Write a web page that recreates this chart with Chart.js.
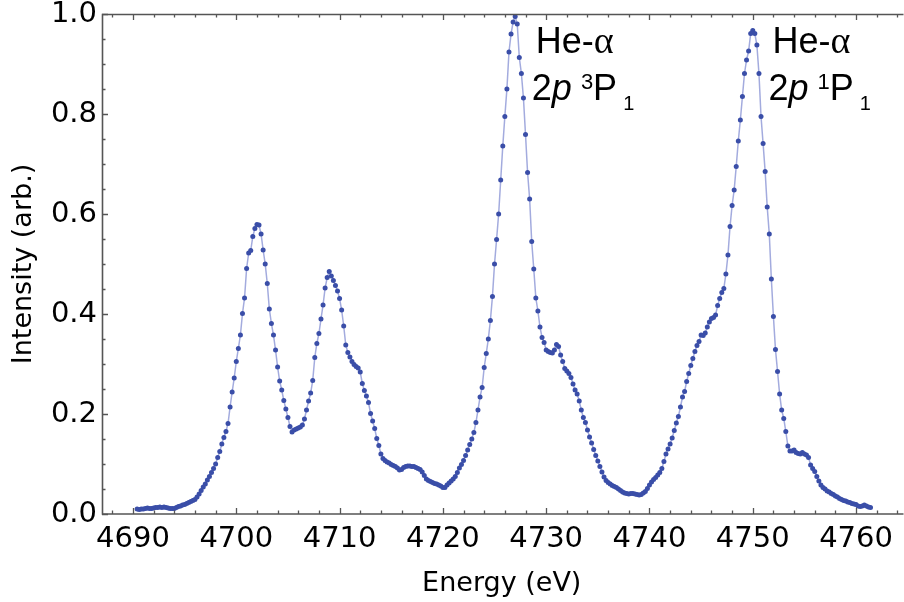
<!DOCTYPE html>
<html>
<head>
<meta charset="utf-8">
<script src="https://cdn.jsdelivr.net/npm/chart.js@4.4.1/dist/chart.umd.min.js"></script>
<style>
  html, body { margin: 0; padding: 0; background: #fff; }
  canvas { display: block; }
</style>
</head>
<body>
<canvas id="spectrum" width="904" height="602"></canvas>
<script>
// photon energy (eV) of each spectrometer bin
const energy = [
  4690.4, 4690.6, 4690.8, 4691.0, 4691.2, 4691.4, 4691.6, 4691.8, 4692.0, 4692.2,
  4692.4, 4692.6, 4692.8, 4693.0, 4693.2, 4693.4, 4693.6, 4693.8, 4694.0, 4694.2,
  4694.4, 4694.6, 4694.8, 4695.0, 4695.2, 4695.4, 4695.6, 4695.8, 4696.0, 4696.2,
  4696.4, 4696.6, 4696.8, 4697.0, 4697.2, 4697.4, 4697.6, 4697.8, 4698.0, 4698.2,
  4698.4, 4698.6, 4698.8, 4699.0, 4699.2, 4699.4, 4699.6, 4699.8, 4700.0, 4700.2,
  4700.4, 4700.6, 4700.8, 4701.0, 4701.2, 4701.4, 4701.6, 4701.8, 4702.0, 4702.2,
  4702.4, 4702.6, 4702.8, 4703.0, 4703.2, 4703.4, 4703.6, 4703.8, 4704.0, 4704.2,
  4704.4, 4704.6, 4704.8, 4705.0, 4705.2, 4705.4, 4705.6, 4705.8, 4706.0, 4706.2,
  4706.4, 4706.6, 4706.8, 4707.0, 4707.2, 4707.4, 4707.6, 4707.8, 4708.0, 4708.2,
  4708.4, 4708.6, 4708.8, 4709.0, 4709.2, 4709.4, 4709.6, 4709.8, 4710.0, 4710.2,
  4710.4, 4710.6, 4710.8, 4711.0, 4711.2, 4711.4, 4711.6, 4711.8, 4712.0, 4712.2,
  4712.4, 4712.6, 4712.8, 4713.0, 4713.2, 4713.4, 4713.6, 4713.8, 4714.0, 4714.2,
  4714.4, 4714.6, 4714.8, 4715.0, 4715.2, 4715.4, 4715.6, 4715.8, 4716.0, 4716.2,
  4716.4, 4716.6, 4716.8, 4717.0, 4717.2, 4717.4, 4717.6, 4717.8, 4718.0, 4718.2,
  4718.4, 4718.6, 4718.8, 4719.0, 4719.2, 4719.4, 4719.6, 4719.8, 4720.0, 4720.2,
  4720.4, 4720.6, 4720.8, 4721.0, 4721.2, 4721.4, 4721.6, 4721.8, 4722.0, 4722.2,
  4722.4, 4722.6, 4722.8, 4723.0, 4723.2, 4723.4, 4723.6, 4723.8, 4724.0, 4724.2,
  4724.4, 4724.6, 4724.8, 4725.0, 4725.2, 4725.4, 4725.6, 4725.8, 4726.0, 4726.2,
  4726.4, 4726.6, 4726.8, 4727.0, 4727.2, 4727.4, 4727.6, 4727.8, 4728.0, 4728.2,
  4728.4, 4728.6, 4728.8, 4729.0, 4729.2, 4729.4, 4729.6, 4729.8, 4730.0, 4730.2,
  4730.4, 4730.6, 4730.8, 4731.0, 4731.2, 4731.4, 4731.6, 4731.8, 4732.0, 4732.2,
  4732.4, 4732.6, 4732.8, 4733.0, 4733.2, 4733.4, 4733.6, 4733.8, 4734.0, 4734.2,
  4734.4, 4734.6, 4734.8, 4735.0, 4735.2, 4735.4, 4735.6, 4735.8, 4736.0, 4736.2,
  4736.4, 4736.6, 4736.8, 4737.0, 4737.2, 4737.4, 4737.6, 4737.8, 4738.0, 4738.2,
  4738.4, 4738.6, 4738.8, 4739.0, 4739.2, 4739.4, 4739.6, 4739.8, 4740.0, 4740.2,
  4740.4, 4740.6, 4740.8, 4741.0, 4741.2, 4741.4, 4741.6, 4741.8, 4742.0, 4742.2,
  4742.4, 4742.6, 4742.8, 4743.0, 4743.2, 4743.4, 4743.6, 4743.8, 4744.0, 4744.2,
  4744.4, 4744.6, 4744.8, 4745.0, 4745.2, 4745.4, 4745.6, 4745.8, 4746.0, 4746.2,
  4746.4, 4746.6, 4746.8, 4747.0, 4747.2, 4747.4, 4747.6, 4747.8, 4748.0, 4748.2,
  4748.4, 4748.6, 4748.8, 4749.0, 4749.2, 4749.4, 4749.6, 4749.8, 4750.0, 4750.2,
  4750.4, 4750.6, 4750.8, 4751.0, 4751.2, 4751.4, 4751.6, 4751.8, 4752.0, 4752.2,
  4752.4, 4752.6, 4752.8, 4753.0, 4753.2, 4753.4, 4753.6, 4753.8, 4754.0, 4754.2,
  4754.4, 4754.6, 4754.8, 4755.0, 4755.2, 4755.4, 4755.6, 4755.8, 4756.0, 4756.2,
  4756.4, 4756.6, 4756.8, 4757.0, 4757.2, 4757.4, 4757.6, 4757.8, 4758.0, 4758.2,
  4758.4, 4758.6, 4758.8, 4759.0, 4759.2, 4759.4, 4759.6, 4759.8, 4760.0, 4760.2,
  4760.4, 4760.6, 4760.8, 4761.0, 4761.2, 4761.4
];

// normalised counts, same order as energy
const intensity = [
  0.010, 0.009, 0.010, 0.010, 0.011, 0.012, 0.011, 0.011, 0.012, 0.013,
  0.013, 0.014, 0.013, 0.014, 0.013, 0.012, 0.011, 0.011, 0.011, 0.013,
  0.015, 0.016, 0.018, 0.019, 0.021, 0.023, 0.025, 0.027, 0.029, 0.034,
  0.040, 0.047, 0.054, 0.060, 0.068, 0.075, 0.083, 0.091, 0.100, 0.113,
  0.125, 0.140, 0.153, 0.165, 0.181, 0.214, 0.244, 0.272, 0.305, 0.331,
  0.358, 0.401, 0.432, 0.491, 0.522, 0.527, 0.555, 0.571, 0.579, 0.578,
  0.560, 0.528, 0.500, 0.461, 0.410, 0.381, 0.358, 0.328, 0.294, 0.266,
  0.248, 0.227, 0.210, 0.193, 0.175, 0.164, 0.168, 0.170, 0.172, 0.174,
  0.178, 0.190, 0.208, 0.226, 0.242, 0.267, 0.313, 0.341, 0.361, 0.390,
  0.418, 0.452, 0.473, 0.485, 0.476, 0.467, 0.457, 0.446, 0.431, 0.408,
  0.376, 0.338, 0.323, 0.314, 0.305, 0.299, 0.295, 0.292, 0.284, 0.261,
  0.247, 0.236, 0.223, 0.201, 0.186, 0.171, 0.151, 0.137, 0.120, 0.111,
  0.107, 0.104, 0.102, 0.099, 0.097, 0.095, 0.092, 0.088, 0.089, 0.093,
  0.095, 0.096, 0.096, 0.095, 0.095, 0.093, 0.091, 0.089, 0.084, 0.077,
  0.070, 0.067, 0.065, 0.063, 0.061, 0.060, 0.058, 0.056, 0.053, 0.053,
  0.058, 0.062, 0.066, 0.070, 0.075, 0.083, 0.092, 0.099, 0.107, 0.117,
  0.128, 0.139, 0.150, 0.163, 0.183, 0.208, 0.234, 0.253, 0.293, 0.321,
  0.350, 0.387, 0.435, 0.500, 0.549, 0.600, 0.668, 0.736, 0.795, 0.850,
  0.924, 0.960, 0.984, 0.995, 0.980, 0.913, 0.881, 0.832, 0.759, 0.683,
  0.630, 0.545, 0.490, 0.432, 0.406, 0.374, 0.353, 0.343, 0.328, 0.325,
  0.323, 0.322, 0.328, 0.339, 0.335, 0.318, 0.305, 0.291, 0.286, 0.281,
  0.273, 0.260, 0.248, 0.240, 0.226, 0.208, 0.193, 0.183, 0.168, 0.154,
  0.142, 0.129, 0.117, 0.106, 0.095, 0.084, 0.074, 0.067, 0.063, 0.060,
  0.057, 0.055, 0.053, 0.050, 0.047, 0.044, 0.042, 0.041, 0.040, 0.041,
  0.041, 0.040, 0.039, 0.038, 0.039, 0.042, 0.045, 0.051, 0.058, 0.064,
  0.069, 0.073, 0.078, 0.083, 0.091, 0.105, 0.120, 0.130, 0.140, 0.152,
  0.167, 0.182, 0.195, 0.214, 0.234, 0.245, 0.265, 0.281, 0.297, 0.311,
  0.325, 0.337, 0.345, 0.358, 0.357, 0.362, 0.374, 0.384, 0.391, 0.393,
  0.398, 0.417, 0.431, 0.443, 0.451, 0.480, 0.518, 0.575, 0.617, 0.648,
  0.695, 0.746, 0.788, 0.835, 0.881, 0.908, 0.926, 0.961, 0.967, 0.961,
  0.938, 0.881, 0.795, 0.741, 0.685, 0.614, 0.560, 0.470, 0.395, 0.329,
  0.285, 0.240, 0.208, 0.191, 0.165, 0.136, 0.126, 0.126, 0.128, 0.123,
  0.121, 0.120, 0.123, 0.120, 0.118, 0.113, 0.098, 0.091, 0.085, 0.075,
  0.066, 0.058, 0.053, 0.050, 0.046, 0.044, 0.041, 0.039, 0.036, 0.034,
  0.031, 0.029, 0.027, 0.026, 0.024, 0.023, 0.021, 0.020, 0.019, 0.016,
  0.015, 0.016, 0.018, 0.016, 0.014, 0.013
];

const xTickLabels = [4690, 4700, 4710, 4720, 4730, 4740, 4750, 4760];
const yTickLabels = [0, 0.2, 0.4, 0.6, 0.8, 1.0];

// line names for the two resonance peaks: [series, upper-state multiplicity]
const lineNames = [['He-\u03b1', '3'], ['He-\u03b1', '1']];

const points = energy.map((e, i) => ({ x: e, y: intensity[i] }));

const SANS = '"Liberation Sans", Arial, sans-serif';
const TICKFONT = '"DejaVu Sans", sans-serif';

// Mathematica-style frame: axes on three sides, ticks pointing inwards
const framePlugin = {
  id: 'frame',
  afterDatasetsDraw(chart) {
    const { ctx, chartArea: a, scales: { x, y } } = chart;
    ctx.save();
    ctx.strokeStyle = '#555';
    ctx.lineWidth = 1.6;
    ctx.beginPath();
    ctx.moveTo(a.right + 2, a.top + 0.5);
    ctx.lineTo(a.left + 0.5, a.top + 0.5);
    ctx.lineTo(a.left + 0.5, a.bottom);
    ctx.lineTo(a.right + 2, a.bottom);
    ctx.stroke();

    ctx.lineWidth = 1.3;
    ctx.beginPath();
    for (let v = 4688; v <= 4764; v += 2) {
      const px = Math.round(x.getPixelForValue(v)) + 0.5;
      const len = xTickLabels.includes(v) ? 6 : 3.5;
      ctx.moveTo(px, a.bottom);
      ctx.lineTo(px, a.bottom - len);
      ctx.moveTo(px, a.top);
      ctx.lineTo(px, a.top + len);
    }
    for (let i = 0; i <= 20; i++) {
      const py = Math.round(y.getPixelForValue(i * 0.05)) + 0.5;
      const len = i % 4 === 0 ? 6 : 3.5;
      ctx.moveTo(a.left, py);
      ctx.lineTo(a.left + len, py);
    }
    ctx.stroke();

    // peak labels: "He-α" over "2p ^(2S+1)P_1"
    const anchors = [4729.0, 4751.9];
    const base1 = y.getPixelForValue(0.922);
    const base2 = y.getPixelForValue(0.828);
    ctx.fillStyle = '#000';
    ctx.textAlign = 'left';
    ctx.textBaseline = 'alphabetic';
    lineNames.forEach(([name, mult], k) => {
      const x0 = x.getPixelForValue(anchors[k]);
      let cx = x0;
      const run = (txt, font, yb) => {
        ctx.font = font;
        ctx.fillText(txt, cx, yb);
        cx += ctx.measureText(txt).width;
      };
      run(name.slice(0, 3), '36px ' + SANS, base1);
      run(name.slice(3), '38px "Liberation Serif", serif', base1);

      cx = x0 - 4;
      run('2', '36px ' + SANS, base2);
      run('p', 'italic 36px ' + SANS, base2);
      cx += 9;
      run(mult, '22px ' + SANS, base2 - 11);
      run('P', '36px ' + SANS, base2);
      cx += 6;
      run('1', '20px ' + SANS, base2 + 10);
    });
    ctx.restore();
  }
};

new Chart(document.getElementById('spectrum'), {
  type: 'scatter',
  data: {
    datasets: [{
      data: points,
      showLine: true,
      borderColor: 'rgba(72, 88, 190, 0.5)',
      borderWidth: 1.5,
      pointRadius: 2.5,
      pointBackgroundColor: '#3a4ea8',
      pointBorderWidth: 0,
      pointHoverRadius: 0
    }]
  },
  options: {
    responsive: false,
    animation: false,
    devicePixelRatio: 1,
    layout: { padding: { top: 14, right: 0, bottom: 0, left: 0 } },
    plugins: {
      legend: { display: false },
      tooltip: { enabled: false }
    },
    scales: {
      x: {
        type: 'linear',
        min: 4687,
        max: 4764.4,
        grid: { display: false, drawTicks: false },
        border: { display: false },
        afterBuildTicks: (scale) => { scale.ticks = xTickLabels.map(v => ({ value: v })); },
        afterFit: (scale) => {
          scale.height = 88;
          scale.paddingLeft = 0;
          scale.paddingRight = 0;
        },
        ticks: {
          color: '#000',
          font: { family: TICKFONT, size: 29 },
          padding: 8,
          maxRotation: 0,
          autoSkip: false,
          callback: (v) => String(v)
        },
        title: {
          display: true,
          text: 'Energy (eV)',
          color: '#000',
          font: { family: TICKFONT, size: 27 },
          padding: { top: 0, bottom: 2 }
        }
      },
      y: {
        min: 0,
        max: 1,
        grid: { display: false, drawTicks: false },
        border: { display: false },
        afterBuildTicks: (scale) => { scale.ticks = yTickLabels.map(v => ({ value: v })); },
        afterFit: (scale) => {
          scale.width = 102;
          scale.paddingTop = 0;
          scale.paddingBottom = 0;
        },
        ticks: {
          color: '#000',
          font: { family: TICKFONT, size: 29 },
          padding: 5,
          callback: (v) => v.toFixed(1)
        },
        title: {
          display: true,
          text: 'Intensity (arb.)',
          color: '#000',
          font: { family: TICKFONT, size: 27 },
          padding: { top: 8, bottom: 0 }
        }
      }
    }
  },
  plugins: [framePlugin]
});
</script>
</body>
</html>
